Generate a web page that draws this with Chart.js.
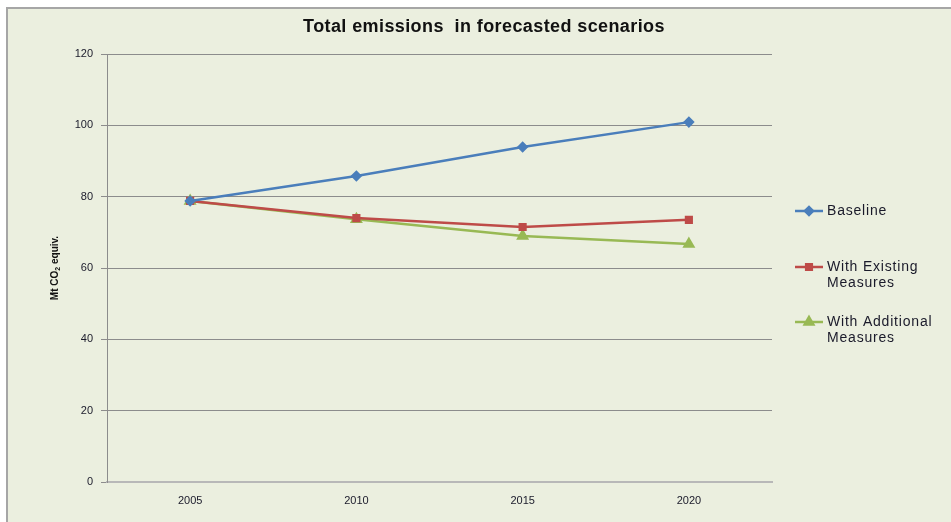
<!DOCTYPE html>
<html>
<head>
<meta charset="utf-8">
<script src="https://cdn.jsdelivr.net/npm/chart.js@4/dist/chart.umd.min.js"></script>
<style>
  html, body { margin: 0; padding: 0; background: #fff; }
  #wrap { position: relative; width: 951px; height: 522px; overflow: hidden; }
  #panel { position: absolute; left: 6px; top: 7px; right: -2px; bottom: -2px;
           background: #EBEFDF; border-left: 2px solid #A6A6A6; border-top: 2px solid #A6A6A6; }
  #chart { position: absolute; left: 0; top: 0; }
</style>
</head>
<body>
<div id="wrap">
  <div id="panel"></div>
  <canvas id="chart" width="951" height="522"></canvas>
</div>
<script>
// data
const years = ['2005', '2010', '2015', '2020'];
const baseline = [78.8, 85.8, 93.9, 100.9];
const withExisting = [78.8, 74.0, 71.5, 73.5];
const withAdditional = [78.8, 73.7, 69.0, 66.7];
const seriesNames = ['Baseline', 'With Existing Measures', 'With Additional Measures'];
const legendLines = [['Baseline'], ['With Existing', 'Measures'], ['With Additional', 'Measures']];

const colors = ['#4A7EBB', '#BE4B48', '#98B954'];
const markers = ['rectRot', 'rect', 'triangle'];
const markerSize = [5, 5, 6];
const FONT = '"Liberation Sans", Arial, sans-serif';

// title, axis title and the two-line legend are drawn by hand
const extras = {
  id: 'extras',
  afterDraw(chart) {
    const ctx = chart.ctx;
    ctx.save();
    ctx.fillStyle = '#111';
    ctx.textAlign = 'center';
    ctx.textBaseline = 'middle';
    ctx.font = 'bold 18px ' + FONT;
    ctx.letterSpacing = '0.4px';
    ctx.fillText('Total emissions  in forecasted scenarios', 484, 27);
    ctx.letterSpacing = '0px';

    // y title with subscript
    ctx.translate(55, 268);
    ctx.rotate(-Math.PI / 2);
    ctx.textAlign = 'left';
    const a = 'Mt CO', b = '2', c = ' equiv.';
    ctx.font = 'bold 10px ' + FONT;
    const wa = ctx.measureText(a).width, wc = ctx.measureText(c).width;
    ctx.font = 'bold 7px ' + FONT;
    const wb = ctx.measureText(b).width;
    let x = -(wa + wb + wc) / 2;
    ctx.font = 'bold 10px ' + FONT;
    ctx.fillText(a, x, 0); x += wa;
    ctx.font = 'bold 7px ' + FONT;
    ctx.fillText(b, x, 3); x += wb;
    ctx.font = 'bold 10px ' + FONT;
    ctx.fillText(c, x, 0);
    ctx.restore();

    // legend
    const ys = [211, 267, 322];
    ctx.save();
    ctx.font = '14px ' + FONT;
    ctx.letterSpacing = '0.8px';
    ctx.textBaseline = 'middle';
    legendLines.forEach((lines, i) => {
      const y = ys[i];
      ctx.strokeStyle = colors[i];
      ctx.lineWidth = 2.5;
      ctx.beginPath(); ctx.moveTo(795, y); ctx.lineTo(823, y); ctx.stroke();
      Chart.helpers.drawPoint(ctx, {
        pointStyle: markers[i], radius: markerSize[i] - 1, borderWidth: 1
      }, 809, y);
      ctx.fillStyle = colors[i];
      ctx.fill();
      ctx.fillStyle = '#1A1A2A';
      lines.forEach((t, j) => ctx.fillText(t, 827, y + j * 16.5));
    });
    ctx.restore();
  }
};

const makeSet = (label, data, i) => ({
  label, data,
  borderColor: colors[i],
  backgroundColor: colors[i],
  pointBackgroundColor: colors[i],
  pointBorderColor: colors[i],
  pointStyle: markers[i],
  pointRadius: markerSize[i] - 1,
  borderWidth: 2.5,
  tension: 0
});

new Chart(document.getElementById('chart'), {
  type: 'line',
  data: {
    labels: years,
    datasets: [
      makeSet(seriesNames[0], baseline, 0),
      makeSet(seriesNames[1], withExisting, 1),
      makeSet(seriesNames[2], withAdditional, 2)
    ]
  },
  options: {
    responsive: false,
    animation: false,
    devicePixelRatio: 1,
    layout: { padding: { left: 0, right: 179, top: 54, bottom: 0 } },
    plugins: { legend: { display: false }, title: { display: false }, tooltip: { enabled: false } },
    scales: {
      x: {
        offset: true,
        grid: { display: false, drawTicks: false },
        border: { display: true, color: '#B8B8B8', width: 2 },
        ticks: { color: '#1A1A2A', font: { family: FONT, size: 11 }, padding: 12 },
        afterFit: s => { s.height = 40; }
      },
      y: {
        min: 0, max: 120,
        ticks: { stepSize: 20, color: '#1A1A2A', font: { family: FONT, size: 11 }, padding: 8 },
        grid: { color: '#8C8C8C', tickLength: 6, tickColor: '#8C8C8C' },
        border: { color: '#8C8C8C' },
        afterFit: s => { s.width = 107; }
      }
    }
  },
  plugins: [extras]
});
</script>
</body>
</html>
